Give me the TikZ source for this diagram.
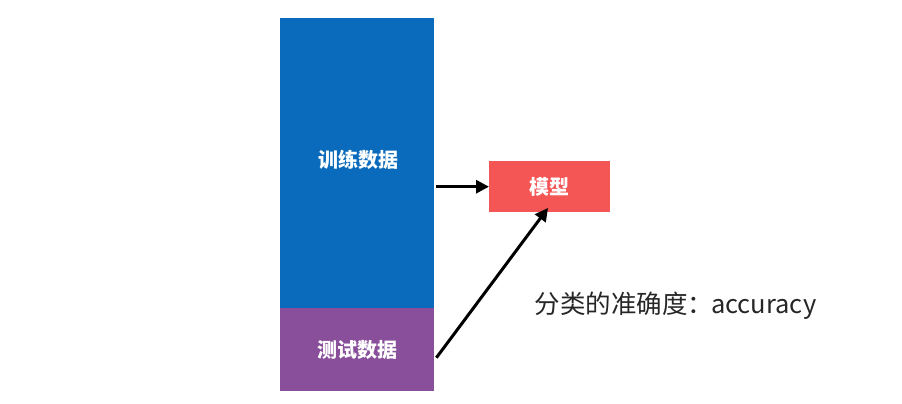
\documentclass[tikz,border=0pt]{standalone}
\usepackage{fontspec}
\setmainfont{Noto Sans CJK SC}
\newfontfamily\cjk{Noto Sans CJK SC}
\usetikzlibrary{arrows.meta}
\definecolor{trainblue}{HTML}{0A6BBC}
\definecolor{testpurple}{HTML}{8A4F9B}
\definecolor{modelred}{HTML}{F45555}
\tikzset{
  block/.style={draw=none, inner sep=0pt, text=white, font=\cjk\bfseries\fontsize{20}{23}\selectfont},
  conn/.style={line width=3pt, -{Triangle[length=13pt,width=13pt]}, black}
}
\begin{document}
\begin{tikzpicture}[x=1pt,y=-1pt]
\useasboundingbox (0,0) rectangle (902,404);
\node[block, fill=trainblue, minimum width=154pt, minimum height=290pt, anchor=north west] (train) at (280,18) {};
\node[block] at (358,160) {训练数据};
\node[block, fill=testpurple, minimum width=154pt, minimum height=83pt, anchor=north west] (test) at (280,308) {测试数据};
\node[block, fill=modelred, minimum width=121pt, minimum height=51pt, anchor=north west] (model) at (489,161) {模型};
\coordinate (tin) at (548,208);
\draw[conn] ([xshift=2pt]train.east |- model.west) -- (model.west);
\draw[conn] ([xshift=2pt,yshift=-8pt]test.east) -- (tin);
\node[anchor=west, font=\cjk\fontsize{25.5}{29}\selectfont, text=black!85] (acc) at (531,306) {分类的准确度：\kern-2pt accuracy};
\end{tikzpicture}
\end{document}
